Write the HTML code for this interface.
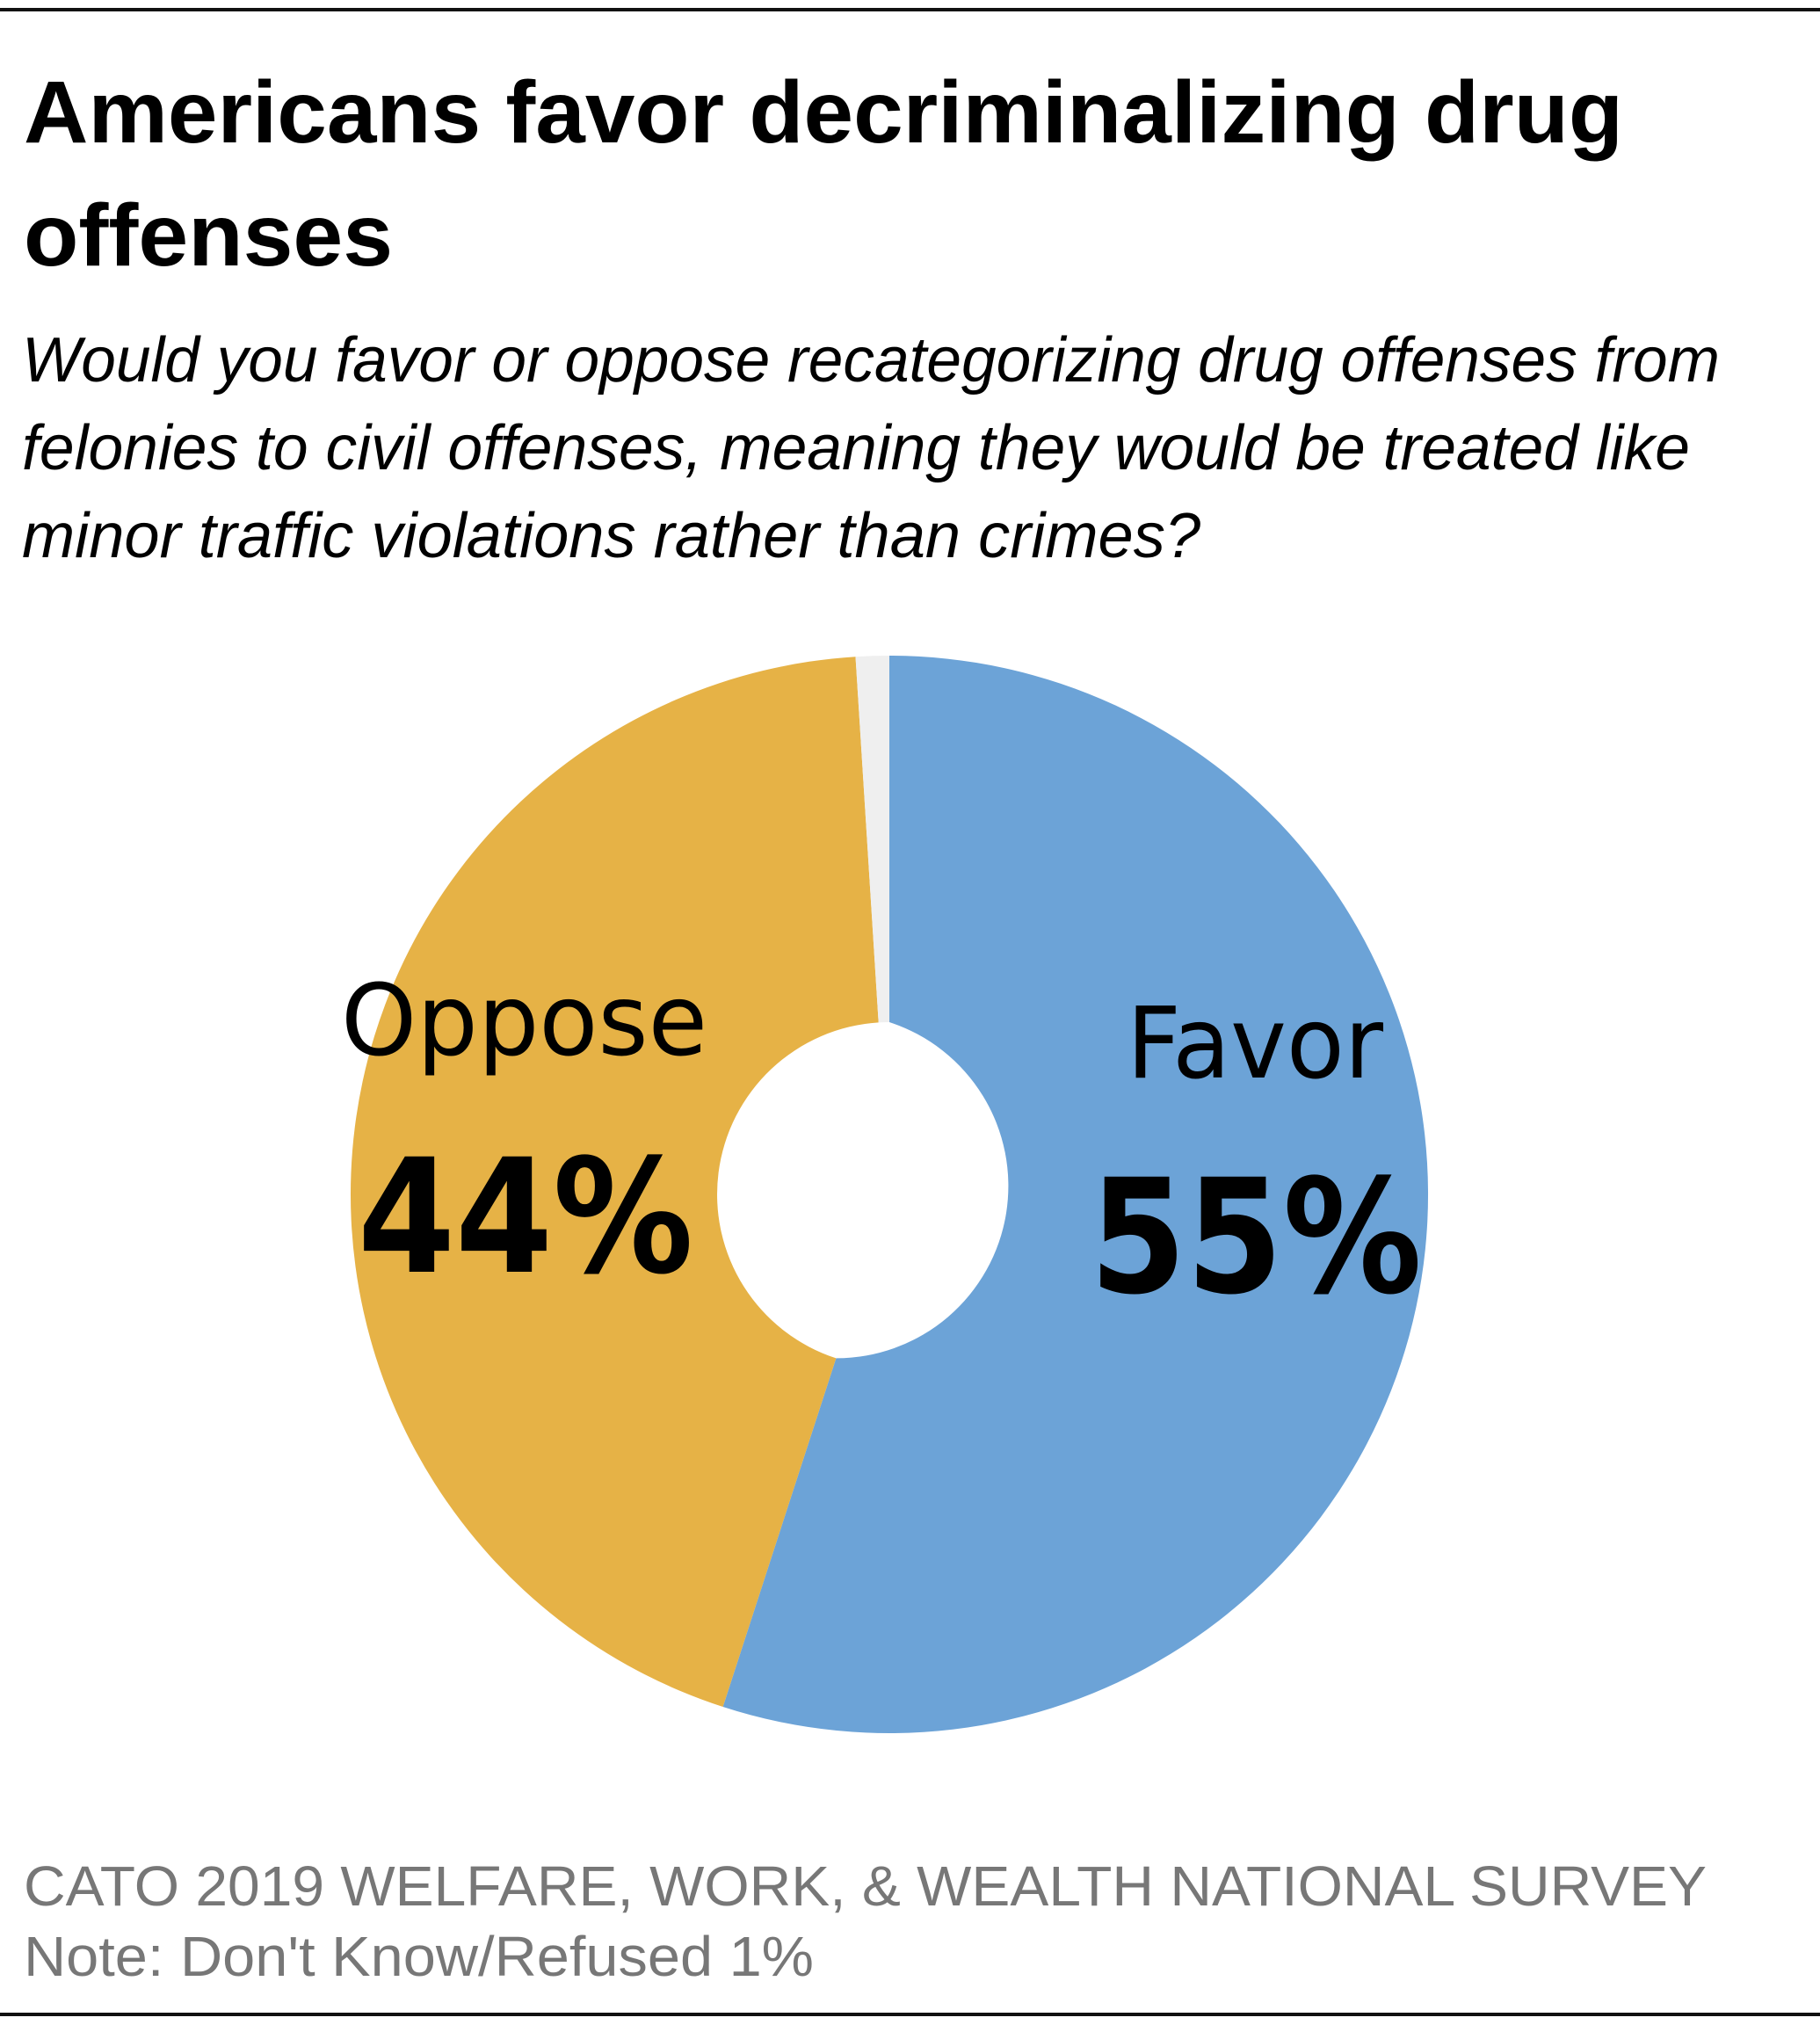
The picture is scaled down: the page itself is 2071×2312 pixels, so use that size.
<!DOCTYPE html>
<html><head><meta charset="utf-8"><style>
html,body{margin:0;padding:0;background:#fff;}
svg{display:block;}
</style></head><body>
<svg width="2071" height="2312" viewBox="0 0 2071 2312" xmlns="http://www.w3.org/2000/svg">
<rect width="2071" height="2312" fill="#fff"/>
<rect x="0" y="9" width="2071" height="4" fill="#111"/>
<rect x="0" y="2290" width="2071" height="4" fill="#111"/>
<g font-family="Liberation Sans, sans-serif" fill="#000">
<text x="27" y="162" font-size="100" font-weight="bold" textLength="1820" lengthAdjust="spacingAndGlyphs">Americans favor decriminalizing drug</text>
<text x="27" y="302" font-size="100" font-weight="bold" textLength="420" lengthAdjust="spacingAndGlyphs">offenses</text>
<text x="25" y="434" font-size="72" font-style="italic" textLength="1932" lengthAdjust="spacingAndGlyphs">Would you favor or oppose recategorizing drug offenses from</text>
<text x="25" y="534" font-size="72" font-style="italic" textLength="1898" lengthAdjust="spacingAndGlyphs">felonies to civil offenses, meaning they would be treated like</text>
<text x="25" y="634" font-size="72" font-style="italic" textLength="1341" lengthAdjust="spacingAndGlyphs">minor traffic violations rather than crimes?</text>
</g>
<path d="M1012,746 A613,613 0 1 1 822.6,1942 L951.4,1545.4 A196,196 0 0 0 1012,1163 Z" fill="#6CA3D7"/>
<path d="M822.6,1942 A613,613 0 0 1 973.5,747.2 L999.7,1163.4 A196,196 0 0 0 951.4,1545.4 Z" fill="#E6B246"/>
<path d="M973.5,747.2 A613,613 0 0 1 1012,746 L1012,1163 A196,196 0 0 0 999.7,1163.4 Z" fill="#EFEFEF"/>
<g font-family="DejaVu Sans, Liberation Sans, sans-serif" fill="#000">
<text x="388" y="1200" font-size="112" textLength="417" lengthAdjust="spacingAndGlyphs">Oppose</text>
<text x="407" y="1447" font-size="180" font-weight="bold" textLength="382" lengthAdjust="spacingAndGlyphs">44%</text>
<text x="1282" y="1226" font-size="112" textLength="292" lengthAdjust="spacingAndGlyphs">Favor</text>
<text x="1240" y="1470" font-size="180" font-weight="bold" textLength="378" lengthAdjust="spacingAndGlyphs">55%</text>
</g>
<g font-family="Liberation Sans, sans-serif" fill="#777">
<text x="27" y="2168" font-size="64" textLength="1915" lengthAdjust="spacingAndGlyphs">CATO 2019 WELFARE, WORK, &amp; WEALTH NATIONAL SURVEY</text>
<text x="27" y="2248" font-size="64" textLength="899" lengthAdjust="spacingAndGlyphs">Note: Don't Know/Refused 1%</text>
</g>
</svg>
</body></html>
